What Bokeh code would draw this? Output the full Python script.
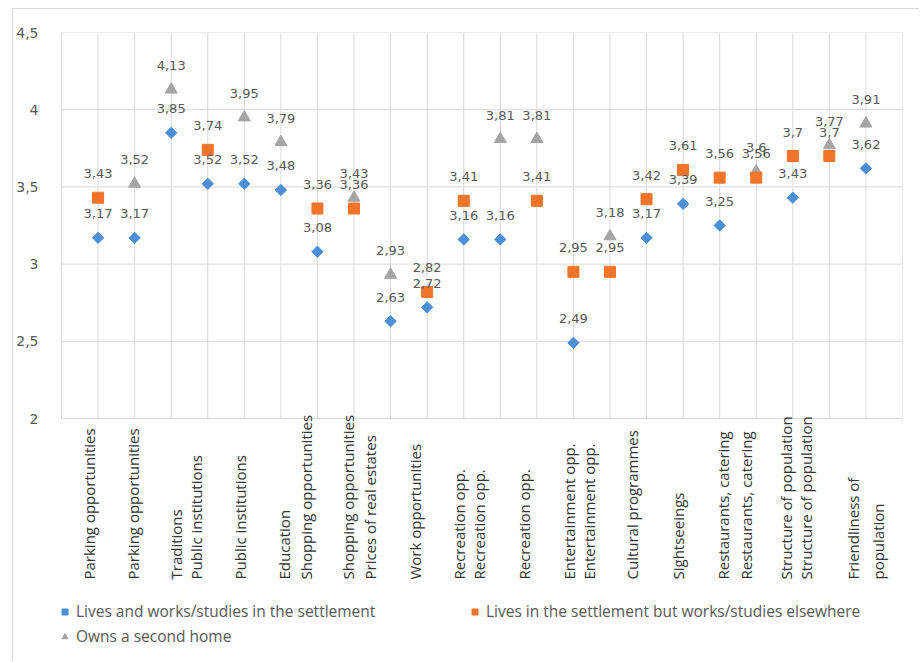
import math

from bokeh.core.properties import value
from bokeh.embed import file_html
from bokeh.models import (ColumnDataSource, CustomJSTickFormatter, FixedTicker,
                          LabelSet, Legend, LegendItem, LinearAxis)
from bokeh.plotting import figure
from bokeh.resources import INLINE

# ---- data -------------------------------------------------------------
nan = float("nan")

categories = [
    "Parking opportunities", "Parking opportunities", "Traditions",
    "Public institutions", "Public institutions", "Education",
    "Shopping opportunities", "Shopping opportunities", "Prices of real estates",
    "Work opportunities", "Recreation opp.", "Recreation opp.", "Recreation opp.",
    "Entertainment opp.", "Entertainment opp.", "Cultural programmes",
    "Sightseeings", "Restaurants, catering", "Restaurants, catering",
    "Structure of population", "Structure of population",
    "Friendliness of\npopulation",
]
positions = list(range(1, 23))

lives_works = [3.17, 3.17, 3.85, 3.52, 3.52, 3.48, 3.08, nan, 2.63, 2.72, 3.16,
               3.16, nan, 2.49, nan, 3.17, 3.39, 3.25, nan, 3.43, nan, 3.62]
lives_elsewhere = [3.43, nan, nan, 3.74, nan, nan, 3.36, 3.36, nan, 2.82, 3.41,
                   nan, 3.41, 2.95, 2.95, 3.42, 3.61, 3.56, 3.56, 3.70, 3.70, nan]
second_home = [nan, 3.52, 4.13, nan, 3.95, 3.79, nan, 3.43, 2.93, nan, nan,
               3.81, 3.81, nan, 3.18, nan, nan, nan, 3.60, nan, 3.77, 3.91]

series_names = [
    "Lives and works/studies in the settlement",
    "Lives in the settlement but works/studies elsewhere",
    "Owns a second home",
]
y_ticks = [2, 2.5, 3, 3.5, 4, 4.5]
x_grid = list(range(0, 24))

# ---- layout (page pixels) ---------------------------------------------------
W, H = 907, 653                    # figure canvas; it sits at page (13, 9)
CANVAS_X, CANVAS_Y = 13, 9
PLOT_L, PLOT_R, PLOT_T, PLOT_B = 60, 902, 32, 418   # gridded plot area
FRAME_L = 47                       # frame reaches a bit left for the legend
X0, X1, Y0, Y1 = 0, 23, 2, 4.5
px_per_x = (PLOT_R - PLOT_L) / (X1 - X0)
px_per_y = (PLOT_B - PLOT_T) / (Y1 - Y0)
frame_bottom = CANVAS_Y + H

x_start = X0 - (PLOT_L - FRAME_L) / px_per_x
y_start = Y0 - (frame_bottom - PLOT_B) / px_per_y

# horizontal centre of each rotated category label, page pixels
cat_label_px = [88, 132, 175, 195, 239, 283, 305, 347, 369, 414, 458, 478, 523,
                568, 588, 631, 677, 722, 745, 785, 805, 852]
cat_line_step = 25          # spacing between wrapped lines of one label
cat_label_bottom = 579      # page y where the rotated labels start

BLUE, ORANGE, GRAY = "#4A8FD8", "#F0742A", "#A5A5A5"
GRID = "#D9D9D9"
TEXT = "#595959"


def fmt(v):
    return f"{v:g}".replace(".", ",")


p = figure(width=W, height=H, x_range=(x_start, X1), y_range=(y_start, Y1),
           output_backend="svg", toolbar_location=None,
           x_axis_type=None, y_axis_type=None,
           min_border_left=FRAME_L - CANVAS_X, min_border_right=CANVAS_X + W - PLOT_R,
           min_border_top=PLOT_T - CANVAS_Y, min_border_bottom=0)
p.outline_line_color = None
p.background_fill_color = "white"
p.border_fill_color = "white"
p.styles = {"margin-left": "12px", "margin-top": "8px",
            "border-left": "1px solid #D9D9D9", "border-top": "1px solid #D9D9D9"}

# grid lines bounded to the plot area
p.segment(x0=x_grid, y0=[Y0] * len(x_grid), x1=x_grid, y1=[Y1] * len(x_grid),
          line_color=GRID, line_width=1)
p.segment(x0=[X0] * len(y_ticks), y0=y_ticks, x1=[X1] * len(y_ticks), y1=y_ticks,
          line_color=GRID, line_width=1)

yaxis = LinearAxis(ticker=FixedTicker(ticks=y_ticks),
                   formatter=CustomJSTickFormatter(code="return String(tick).replace('.', ',')"),
                   axis_line_color=None, major_tick_line_color=None,
                   minor_tick_line_color=None,
                   major_label_standoff=FRAME_L - 43,
                   major_label_text_font="DejaVu Sans",
                   major_label_text_font_size="14px",
                   major_label_text_color=TEXT)
p.add_layout(yaxis, "left")


def series_source(vals):
    xs = [x for x, v in zip(positions, vals) if not math.isnan(v)]
    ys = [v for v in vals if not math.isnan(v)]
    return ColumnDataSource(dict(x=xs, y=ys, label=[fmt(v) for v in ys]))


src_works = series_source(lives_works)
src_else = series_source(lives_elsewhere)
src_home = series_source(second_home)

r_works = p.scatter("x", "y", source=src_works, marker="square", angle=math.pi / 4,
                    size=8, fill_color=BLUE, line_color=BLUE)
r_home = p.scatter("x", "y", source=src_home, marker="triangle", size=12,
                   fill_color=GRAY, line_color=GRAY)
r_else = p.scatter("x", "y", source=src_else, marker="square", size=11,
                   fill_color=ORANGE, line_color=ORANGE)

for src in (src_works, src_else, src_home):
    p.text("x", "y", text="label", source=src, y_offset=-24,
           text_align="center", text_baseline="middle",
           text_font=value("DejaVu Sans"), text_font_size="13px", text_color=TEXT)

# rotated category labels below the plot area
lx, ly, lt = [], [], []
y_label = Y0 - (cat_label_bottom - PLOT_B) / px_per_y
for name, cx in zip(categories, cat_label_px):
    for i, line in enumerate(name.split("\n")):
        lx.append(X0 + (cx + i * cat_line_step - PLOT_L) / px_per_x)
        ly.append(y_label)
        lt.append(line)
p.add_layout(LabelSet(x="x", y="y", text="text",
                      source=ColumnDataSource(dict(x=lx, y=ly, text=lt)),
                      angle=math.pi / 2, text_align="left", text_baseline="middle",
                      text_font=value("Open Sans"), text_font_size="15px",
                      text_color="#333333"))


def add_legend(label, renderer, page_left, page_bottom):
    lg = Legend(items=[LegendItem(label=label, renderers=[renderer])],
                location=(page_left - FRAME_L, frame_bottom - page_bottom),
                orientation="horizontal",
                padding=0, margin=0, spacing=0,
                border_line_color=None, background_fill_alpha=0,
                glyph_width=15, glyph_height=15, label_standoff=4,
                label_text_font="Open Sans", label_text_font_size="15.5px",
                label_text_color=TEXT)
    p.add_layout(lg, "center")


add_legend(series_names[0], r_works, 56, 622)
add_legend(series_names[1], r_else, 466, 622)
add_legend(series_names[2], r_home, 56, 647)

open("out.html", "w").write(file_html(p, INLINE))
